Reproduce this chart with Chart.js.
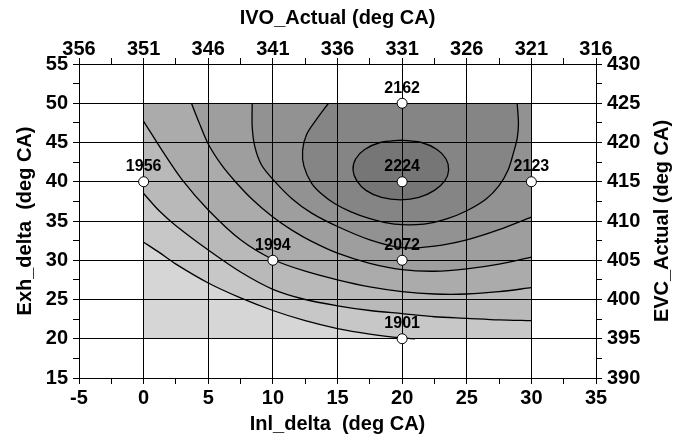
<!DOCTYPE html>
<html lang="en">
<head>
    <meta charset="UTF-8">
    <title>Contour - Inl_delta vs Exh_delta</title>
    <script src="https://cdn.jsdelivr.net/npm/chart.js"></script>
    <style>
        body {
            margin: 0;
            background-color: #fff;
        }
        #chart-box {
            width: 685px;
            height: 439px;
        }
    </style>
</head>
<body>
    <div id="chart-box"><canvas id="contourChart" width="685" height="439"></canvas></div>

    <script>
        // measured runs
        const runX = [0, 10, 20, 20, 20, 20, 30];
        const runY = [40, 30, 50, 40, 30, 20, 40];
        const runLabels = ['1956', '1994', '2162', '2224', '2072', '1901', '2123'];

        // contour lines, lowest level first ([Inl_delta, Exh_delta])
        const contour1 = [[0, 32.3], [1.2, 31], [2.5, 29.5], [5, 27.1], [7.5, 25.2], [10, 23.6], [12.5, 22.3], [15, 21.3], [17.5, 20.6], [20, 20.1], [21, 20]];
        const contour2 = [[0, 38.5], [1.2, 36.3], [2.5, 34.4], [5, 31.3], [7.5, 28.5], [10, 26.3], [12.5, 25], [15, 24.2], [17.5, 23.6], [20, 23.2], [22.5, 22.8], [25, 22.6], [27.5, 22.4], [30, 22.3]];
        const contour3 = [[0, 47.7], [1.5, 43.8], [3, 40.2], [5, 36.4], [7.5, 32.6], [10, 30.1], [12.5, 28.6], [15, 27.5], [17.5, 26.6], [20, 26], [22.5, 25.7], [25, 25.7], [27.5, 26], [30, 26.5]];
        const contour4 = [[3.7, 50], [4.3, 47.5], [5, 44.8], [6, 42.2], [7.1, 40], [8.5, 37.6], [10, 35.5], [11.5, 33.8], [13, 32.4], [15, 30.9], [17.5, 29.6], [20, 28.8], [22.5, 28.6], [25, 28.9], [27.5, 29.5], [30, 30.4]];
        const contour5 = [[8.4, 50], [8.4, 47], [8.6, 44.5], [9.1, 42.2], [10, 40.3], [11.5, 37.8], [13, 36], [15, 34.3], [17.5, 32.6], [20, 31.6], [22.5, 31.8], [25, 32.6], [27.5, 33.9], [30, 35.5]];
        const contour6 = [[14.3, 50], [13.4, 48], [12.6, 46], [12.3, 44], [12.4, 42], [13, 39.8], [13.8, 38.4], [14.8, 37.2], [16, 36.2], [17.5, 35.3], [19.4, 34.6], [21.7, 34.6], [23.5, 35.3], [25, 36.3], [26.5, 37.8], [27.5, 39.5], [28.2, 41.5], [28.6, 43.6], [28.9, 45.5], [29, 47.4], [28.9, 50]];
        const contour7 = [[19.9, 45.3], [21.5, 45], [22.7, 44.1], [23.4, 42.9], [23.6, 41.5], [23.3, 40.1], [22.5, 38.9], [21.3, 38], [19.9, 37.7], [18.4, 38], [17.2, 38.9], [16.5, 40.1], [16.2, 41.5], [16.4, 42.9], [17.1, 44.1], [18.3, 45], [19.9, 45.3]];
        const contours = [contour1, contour2, contour3, contour4, contour5, contour6, contour7];

        // corners of the design space used to close each band on its high side
        const designBox = [[0, 20], [30, 20], [30, 50], [0, 50]];
        const closeCorners = [
            [[30, 20], [30, 50], [0, 50]],
            [[30, 50], [0, 50]],
            [[30, 50], [0, 50]],
            [[30, 50]],
            [[30, 50]],
            [],
            []
        ];
        const bandColors = ['#d6d6d6', '#c7c7c7', '#b9b9b9', '#ababab', '#9e9e9e', '#929292', '#858585', '#767676'];

        const fontFamily = "'Liberation Sans', Arial, sans-serif";
        const axisFont = { family: fontFamily, size: 20, weight: 'bold' };

        const toPoints = arr => arr.map(p => ({ x: p[0], y: p[1] }));

        const datasets = [];
        // filled bands, lightest drawn first (higher order = drawn earlier)
        const bandPolys = [designBox].concat(contours.map((c, i) => c.concat(closeCorners[i])));
        bandPolys.forEach((poly, i) => {
            datasets.push({
                type: 'line',
                data: toPoints(poly),
                fill: 'shape',
                backgroundColor: bandColors[i],
                borderColor: 'rgba(0,0,0,0)',
                borderWidth: 0,
                pointRadius: 0,
                tension: 0,
                order: 30 - i
            });
        });
        contours.forEach(c => {
            datasets.push({
                type: 'line',
                data: toPoints(c),
                fill: false,
                borderColor: '#000',
                borderWidth: 1.3,
                pointRadius: 0,
                tension: 0.3,
                order: 2
            });
        });
        datasets.push({
            type: 'scatter',
            data: runX.map((x, i) => ({ x: x, y: runY[i] })),
            pointRadius: 5,
            pointBackgroundColor: '#fff',
            pointBorderColor: '#000',
            pointBorderWidth: 1,
            order: 0
        });
        const runIndex = datasets.length - 1;

        function isMajor(v, base) {
            const r = Math.abs((v - base) % 5);
            return r < 0.01 || Math.abs(r - 5) < 0.01;
        }

        function makeAxis(position, min, max, base, opts) {
            return Object.assign({
                type: 'linear',
                position: position,
                min: min,
                max: max,
                ticks: {
                    stepSize: 2.5,
                    autoSkip: false,
                    maxRotation: 0,
                    font: axisFont,
                    color: '#000',
                    padding: 5,
                    callback: v => isMajor(v, base) ? String(Math.round(v)) : ''
                },
                grid: {
                    color: ctx => isMajor(ctx.tick.value, base) ? '#000' : 'rgba(0,0,0,0)',
                    tickColor: '#000',
                    tickLength: 6,
                    lineWidth: 1
                },
                border: { color: '#000', width: 1 }
            }, opts);
        }

        // labels next to the runs
        const runLabelPlugin = {
            id: 'runLabels',
            afterDatasetsDraw(chart) {
                const meta = chart.getDatasetMeta(runIndex);
                const ctx = chart.ctx;
                ctx.save();
                ctx.font = 'bold 16px ' + fontFamily;
                ctx.fillStyle = '#000';
                ctx.textAlign = 'center';
                ctx.textBaseline = 'middle';
                meta.data.forEach((pt, i) => {
                    ctx.fillText(runLabels[i], pt.x, pt.y - 15);
                });
                ctx.restore();
            }
        };

        // right axis title reads bottom-to-top
        const rightTitlePlugin = {
            id: 'rightTitle',
            afterDraw(chart) {
                const area = chart.chartArea;
                const ctx = chart.ctx;
                ctx.save();
                ctx.translate(662, (area.top + area.bottom) / 2);
                ctx.rotate(-Math.PI / 2);
                ctx.font = 'bold 20px ' + fontFamily;
                ctx.fillStyle = '#000';
                ctx.textAlign = 'center';
                ctx.textBaseline = 'middle';
                ctx.fillText('EVC_Actual (deg CA)', 0, 0);
                ctx.restore();
            }
        };

        const sideGrid = base => ({
            drawOnChartArea: false,
            color: ctx => isMajor(ctx.tick.value, base) ? '#000' : 'rgba(0,0,0,0)',
            tickColor: '#000',
            tickLength: 6
        });

        new Chart(document.getElementById('contourChart'), {
            type: 'line',
            data: { datasets: datasets },
            options: {
                responsive: false,
                animation: false,
                devicePixelRatio: 1,
                layout: { padding: 0 },
                plugins: {
                    legend: { display: false },
                    tooltip: { enabled: false },
                    filler: { drawTime: 'beforeDraw' }
                },
                scales: {
                    x: makeAxis('bottom', -5, 35, 0, {
                        title: { display: true, text: 'Inl_delta  (deg CA)', font: axisFont, color: '#000', padding: { top: 0, bottom: 3 } },
                        afterFit: s => { s.height = 61; }
                    }),
                    x2: makeAxis('top', 316, 356, 316, {
                        reverse: true,
                        grid: sideGrid(316),
                        title: { display: true, text: 'IVO_Actual (deg CA)', font: axisFont, color: '#000', padding: { top: 6, bottom: 0 } },
                        afterFit: s => { s.height = 64; }
                    }),
                    y: makeAxis('left', 15, 55, 0, {
                        title: { display: true, text: 'Exh_delta  (deg CA)', font: axisFont, color: '#000', padding: { top: 13, bottom: 0 } },
                        afterFit: s => { s.width = 79; }
                    }),
                    y2: makeAxis('right', 390, 430, 390, {
                        grid: sideGrid(390),
                        afterFit: s => { s.width = 89; }
                    })
                }
            },
            plugins: [runLabelPlugin, rightTitlePlugin]
        });

        // nudge the horizontal tick labels toward the axis lines
        const chart = Chart.getChart('contourChart');
        chart.options.scales.x.ticks.padding = 2;
        chart.options.scales.x2.ticks.padding = -3;
        chart.update();
    </script>
</body>
</html>
